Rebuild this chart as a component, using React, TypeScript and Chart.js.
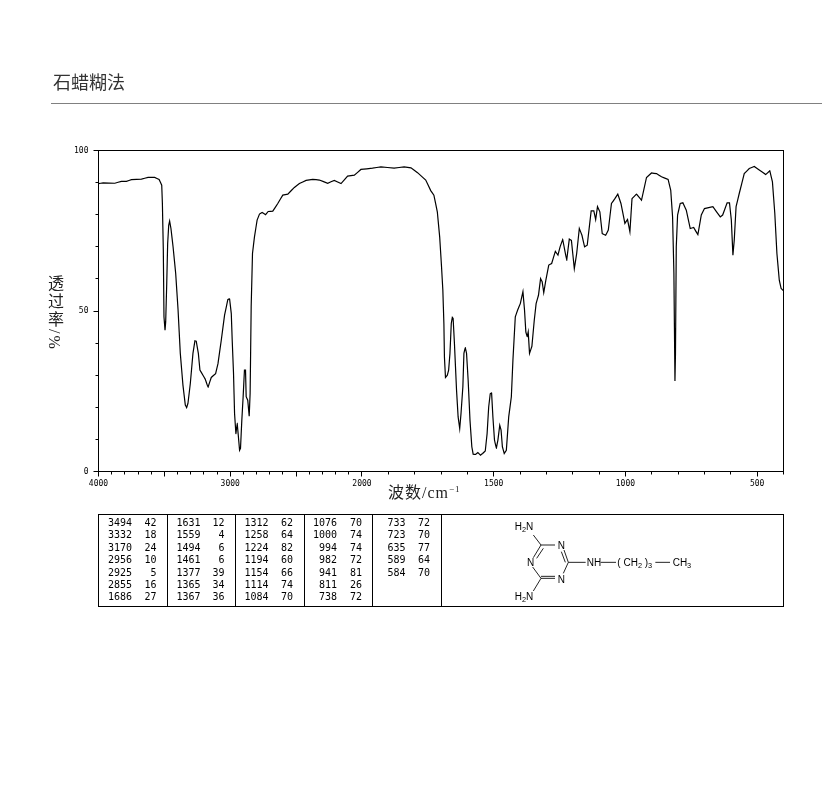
import React, { useEffect, useRef } from "react";
import { Chart, registerables } from "chart.js";

Chart.register(...registerables);

const wavenumbers = [
  4000, 3965, 3876, 3826, 3788, 3750, 3674, 3624, 3573, 3540, 3520, 3515, 3508, 3503, 3495, 3490, 3482, 3475, 3467, 3460,
  3450, 3434, 3414, 3396, 3379, 3359, 3341, 3331, 3321, 3303, 3283, 3268, 3258, 3242, 3230, 3207, 3189, 3169, 3144, 3111,
  3093, 3068, 3043, 3018, 3005, 2992, 2985, 2975, 2967, 2957, 2947, 2940, 2929, 2922, 2912, 2902, 2892, 2884, 2879, 2867,
  2856, 2849, 2841, 2831, 2816, 2796, 2778, 2758, 2732, 2712, 2677, 2639, 2601, 2563, 2513, 2475, 2424, 2374, 2323, 2260,
  2210, 2159, 2109, 2058, 2008, 1960, 1928, 1878, 1840, 1814, 1789, 1758, 1739, 1727, 1714, 1705, 1698, 1693, 1689, 1687,
  1683, 1676, 1671, 1666, 1661, 1657, 1654, 1649, 1641, 1635, 1629, 1624, 1617, 1613, 1608, 1603, 1597, 1590, 1583, 1578,
  1569, 1560, 1550, 1542, 1532, 1525, 1519, 1513, 1508, 1503, 1497, 1490, 1484, 1477, 1472, 1467, 1460, 1452, 1443, 1433,
  1427, 1418, 1409, 1399, 1389, 1383, 1378, 1373, 1369, 1364, 1355, 1346, 1339, 1330, 1322, 1316, 1310, 1302, 1291, 1280,
  1266, 1256, 1248, 1238, 1223, 1213, 1205, 1194, 1185, 1175, 1165, 1155, 1145, 1137, 1130, 1120, 1113, 1106, 1097, 1088,
  1075, 1065, 1053, 1040, 1029, 1017, 1002, 992, 983, 975, 958, 939, 920, 901, 882, 863, 838, 828, 821, 816,
  812, 810, 807, 802, 792, 782, 769, 754, 741, 725, 712, 700, 668, 640, 631, 614, 605, 598, 592, 587,
  580, 568, 549, 530, 511, 492, 467, 452, 442, 433, 425, 416, 409, 400,
];

const transmittance = [
  89.7, 89.9, 89.8, 90.4, 90.4, 90.9, 91.1, 91.6, 91.6, 91.0, 89.2, 83.5, 69, 48.2, 44, 46.6, 58.6, 71, 76.7, 78,
  75.7, 70, 61.7, 50.3, 36.8, 26.9, 20.7, 19.9, 21.2, 27.4, 36.8, 40.7, 40.6, 36.8, 31.6, 30, 28.7, 26.2, 29.3, 30.5,
  33.6, 40.9, 48.7, 53.6, 53.8, 49.2, 40.9, 30.5, 18, 11.8, 15, 11.8, 6.6, 7.2, 16, 23.3, 31.6, 31.6, 23.3, 22.2,
  17.2, 24.3, 51.3, 67.9, 73.1, 78.3, 80.2, 80.7, 80, 81, 81.1, 83.5, 86.1, 86.4, 88.5, 89.7, 90.7, 91, 90.8, 89.8,
  90.7, 89.7, 92, 92.3, 94.1, 94.5, 94.9, 94.5, 94.9, 94.6, 93.1, 90.8, 87.5, 86.1, 80.9, 73.1, 63.8, 56.5, 46, 35.7,
  29.3, 30, 31.6, 36.8, 46.1, 48, 47.7, 39.9, 25.3, 17, 13.4, 18.1, 26.4, 36.8, 38.6, 36.8, 28.5, 16, 7.7, 5.4,
  5.3, 5.9, 5.1, 5.6, 6.4, 11.8, 20.1, 24.3, 24.5, 17, 9.8, 7.2, 9.8, 14.4, 12.9, 7.7, 5.6, 6.6, 17, 23.3,
  34.7, 48.2, 50.3, 52.3, 56, 50.3, 43.5, 42, 43.5, 36.8, 39, 47.1, 52.3, 54.9, 60.1, 59.1, 55.7, 59.6, 64.3, 64.8,
  68.6, 67.4, 70, 72.3, 65.8, 72.4, 72, 63.2, 67.9, 75.7, 73.6, 70, 70.5, 76.2, 81.2, 81.2, 78.5, 82.5, 80.9, 74.1,
  73.6, 75.2, 83.5, 85, 86.4, 83.5, 77.3, 78.5, 74.7, 85, 86.4, 84.5, 91.6, 93, 92.8, 91.8, 91, 87.6, 79.3, 61.7,
  28.2, 36.8, 70, 79.9, 83.5, 83.7, 81.4, 75.7, 76, 73.8, 79.9, 81.9, 82.5, 79.3, 79.9, 83.7, 83.7, 78.3, 67.4, 72,
  82.5, 86.6, 92.8, 94.4, 95, 93.9, 92.5, 93.7, 90.2, 80.4, 67.9, 59.6, 57, 56.3,
];

const upperTicks = [4000, 3900, 3800, 3700, 3600, 3500, 3400, 3300, 3200, 3100, 3000, 2900, 2800, 2700, 2600, 2500, 2400, 2300, 2200, 2100];
const lowerTicks = [2000, 1900, 1800, 1700, 1600, 1500, 1400, 1300, 1200, 1100, 1000, 900, 800, 700, 600, 500, 400];
const majorTicks = [4000, 3500, 3000, 2500, 2000, 1500, 1000, 500];
const labelledX = [4000, 3000, 2000, 1500, 1000, 500];
const labelledY = [0, 50, 100];

const peakColumns: [string, string][][] = [
  [["3494", "42"], ["3332", "18"], ["3170", "24"], ["2956", "10"], ["2925", "5"], ["2855", "16"], ["1686", "27"]],
  [["1631", "12"], ["1559", "4"], ["1494", "6"], ["1461", "6"], ["1377", "39"], ["1365", "34"], ["1367", "36"]],
  [["1312", "62"], ["1258", "64"], ["1224", "82"], ["1194", "60"], ["1154", "66"], ["1114", "74"], ["1084", "70"]],
  [["1076", "70"], ["1000", "74"], ["994", "74"], ["982", "72"], ["941", "81"], ["811", "26"], ["738", "72"]],
  [["733", "72"], ["723", "70"], ["635", "77"], ["589", "64"], ["584", "70"]],
];

// The instrument doubles its scale below 2000 cm-1.
const toAxis = (w: number) => (w >= 2000 ? 4000 - w : 2000 + 2 * (2000 - w));
const fromAxis = (u: number) => (u <= 2000 ? 4000 - u : 2000 - (u - 2000) / 2);

const frameAndTicks = {
  id: "frameAndTicks",
  afterDraw(chart: any) {
    const { ctx, chartArea: a, scales } = chart;
    ctx.save();
    ctx.strokeStyle = "#000";
    ctx.lineWidth = 1;
    ctx.strokeRect(a.left, a.top, a.right - a.left, a.bottom - a.top);
    ctx.beginPath();
    for (const t of scales.x.ticks) {
      const px = Math.round(scales.x.getPixelForValue(t.value) - 0.5) + 0.5;
      const len = majorTicks.includes(fromAxis(t.value)) ? 5 : 3;
      ctx.moveTo(px, a.bottom);
      ctx.lineTo(px, a.bottom + len);
    }
    for (const t of scales.y.ticks) {
      const py = Math.round(scales.y.getPixelForValue(t.value) - 0.5) + 0.5;
      const len = labelledY.includes(t.value) ? 5 : 3;
      ctx.moveTo(a.left, py);
      ctx.lineTo(a.left - len, py);
    }
    ctx.stroke();
    ctx.restore();
  },
};

const abs = (left: number, top: number, extra: React.CSSProperties = {}): React.CSSProperties => ({
  position: "absolute",
  left,
  top,
  ...extra,
});

const wEnds = [132, 200.5, 268.5, 337, 405.5];
const tEnds = [156.5, 224.5, 293, 362, 430];
const separators = [167.5, 235.5, 304.5, 372.5, 441.5];
const cjk = "'Liberation Serif', 'Noto Sans CJK SC', serif";
const mono = "'DejaVu Sans Mono', monospace";

export default function App() {
  const ref = useRef<HTMLCanvasElement>(null);

  useEffect(() => {
    const chart = new Chart(ref.current!, {
      type: "line",
      data: {
        datasets: [
          {
            label: "透过率/%",
            data: wavenumbers.map((w, i) => ({ x: toAxis(w), y: transmittance[i] })),
            borderColor: "#000",
            borderWidth: 1.2,
            pointRadius: 0,
            tension: 0.0001,
            fill: false,
          },
        ],
      },
      options: {
        animation: false,
        responsive: false,
        devicePixelRatio: 1,
        layout: { padding: { top: 150.5, right: 38.5, bottom: 302.5, left: 0 } },
        plugins: { legend: { display: false }, tooltip: { enabled: false }, title: { display: false } },
        scales: {
          x: {
            type: "linear",
            min: 0,
            max: 5200,
            grid: { display: false },
            border: { display: false },
            afterFit: (s: any) => {
              s.height = 20;
            },
            afterBuildTicks: (s: any) => {
              s.ticks = [...upperTicks, ...lowerTicks].map((w) => ({ value: toAxis(w) }));
            },
            ticks: {
              autoSkip: false,
              maxRotation: 0,
              minRotation: 0,
              padding: 0,
              color: "#000",
              font: { family: mono, size: 8 },
              callback: (v: any) => {
                const w = fromAxis(Number(v));
                return labelledX.includes(w) ? String(w) : "";
              },
            },
          },
          y: {
            type: "linear",
            min: 0,
            max: 100,
            grid: { display: false },
            border: { display: false },
            afterFit: (s: any) => {
              s.width = 98.5;
            },
            ticks: {
              stepSize: 10,
              autoSkip: false,
              padding: 2,
              color: "#000",
              font: { family: mono, size: 8 },
              callback: (v: any) => (labelledY.includes(Number(v)) ? String(v) : ""),
            },
          },
        },
      },
      plugins: [frameAndTicks],
    } as any);
    return () => chart.destroy();
  }, []);

  const structText = { fontFamily: "'Liberation Sans', sans-serif", fontSize: 30, fill: "#000" };
  const subText = { fontSize: 22 };

  return (
    <div style={{ position: "absolute", left: 0, top: 0, width: 822, height: 794, overflow: "hidden", background: "#fff" }}>
      <canvas ref={ref} width={822} height={794} style={abs(0, 0, { display: "block" })} />

      <div style={abs(53, 71, { fontFamily: cjk, fontSize: 18, lineHeight: "24px", color: "#333", whiteSpace: "nowrap" })}>石蜡糊法</div>
      <div style={abs(51, 103, { width: 771, height: 1, background: "#808080" })} />

      <div style={abs(388, 483, { fontFamily: cjk, fontSize: 16, lineHeight: "20px", color: "#222", whiteSpace: "nowrap", letterSpacing: 1 })}>
        波数/cm<sup style={{ fontSize: 9, lineHeight: 0 }}>−1</sup>
      </div>
      <div style={abs(45, 275, { fontFamily: cjk, fontSize: 16, lineHeight: "18px", color: "#222", writingMode: "vertical-rl", whiteSpace: "nowrap", letterSpacing: 2 })}>
        透过率/%
      </div>

      <div style={abs(98, 514, { width: 684, height: 91, border: "1px solid #000", boxSizing: "content-box" })} />
      {separators.map((x) => (
        <div key={x} style={abs(Math.floor(x), 514, { width: 1, height: 92, background: "#000" })} />
      ))}
      {peakColumns.map((col, c) =>
        col.map(([w, t], r) => (
          <React.Fragment key={`${c}-${r}`}>
            <div style={{ ...abs(wEnds[c] - 40, 517 + r * 12.4, { width: 40, textAlign: "right" }), fontFamily: mono, fontSize: 10, lineHeight: "12px", color: "#000" }}>{w}</div>
            <div style={{ ...abs(tEnds[c] - 20, 517 + r * 12.4, { width: 20, textAlign: "right" }), fontFamily: mono, fontSize: 10, lineHeight: "12px", color: "#000" }}>{t}</div>
          </React.Fragment>
        )),
      )}

      <svg width={350} height={110} viewBox="0 0 1050 330" style={abs(440, 505)}>
        <g stroke="#000" strokeWidth={2.6} fill="none">
          <path d="M280 90L303 120L345 120" />
          <path d="M372 135L385 172L437 172M364 140L376 172" />
          <path d="M385 172L370 205" />
          <path d="M303 120L280 158M310 130L290 160" />
          <path d="M278 186L303 220L345 220M303 214L345 214" />
          <path d="M303 220L280 258" />
          <path d="M482 172L528 172M646 172L690 172" />
        </g>
        <g style={structText as any}>
          <text x={224} y={76}>H<tspan style={subText} dy={6}>2</tspan><tspan dy={-6}>N</tspan></text>
          <text x={353} y={131}>N</text>
          <text x={261} y={183}>N</text>
          <text x={353} y={233}>N</text>
          <text x={224} y={286}>H<tspan style={subText} dy={6}>2</tspan><tspan dy={-6}>N</tspan></text>
          <text x={440} y={183}>NH</text>
          <text x={532} y={183}>( CH<tspan style={subText} dy={6}>2</tspan><tspan dy={-6}> )</tspan><tspan style={subText} dy={6}>3</tspan></text>
          <text x={698} y={183}>CH<tspan style={subText} dy={6}>3</tspan></text>
        </g>
      </svg>
    </div>
  );
}
